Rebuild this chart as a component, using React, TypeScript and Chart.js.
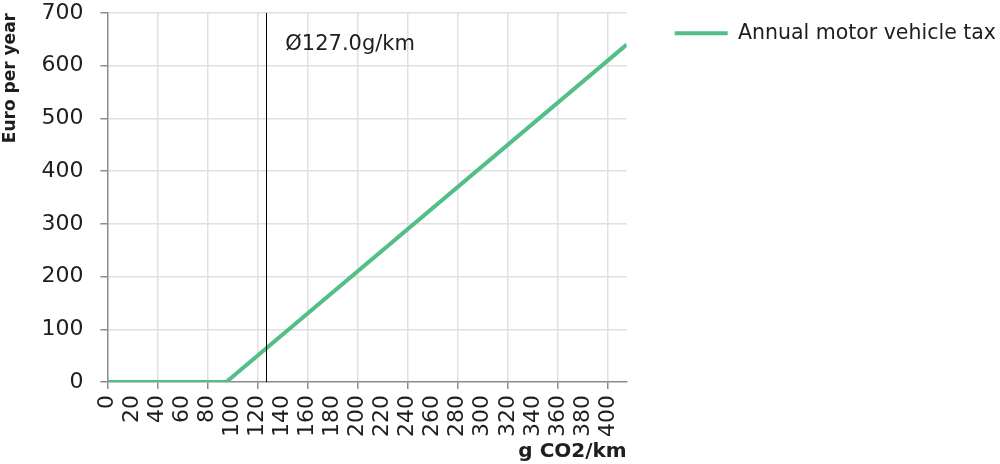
import React, { useEffect, useRef } from "react";
import { Chart, registerables } from "chart.js";

Chart.register(...registerables);

const emissions = [0, 95, 415];
const taxValues = [0, 0, 640];
const averageEmission = 127.0;
const xTickValues = [0, 20, 40, 60, 80, 100, 120, 140, 160, 180, 200, 220, 240, 260, 280, 300, 320, 340, 360, 380, 400];
const seriesLabel = "Annual motor vehicle tax";
const xTitle = "g CO2/km";
const yTitle = "Euro per year";

const FONT = "'DejaVu Sans', sans-serif";
const GREEN = "#52be88";
const TEXT = "#1e1e1e";
const LEGEND_FONT = 20.5;
const LEGEND_BOX = 53;
const LEGEND_GAP = 38;

const avgLinePlugin = {
  id: "avgLine",
  afterDatasetsDraw(chart: any) {
    const { ctx, chartArea, scales } = chart;
    const x = scales.x.getPixelForValue(averageEmission);
    ctx.save();
    ctx.strokeStyle = "#000";
    ctx.lineWidth = 1;
    ctx.beginPath();
    ctx.moveTo(Math.round(x) + 0.5, chartArea.top);
    ctx.lineTo(Math.round(x) + 0.5, chartArea.bottom);
    ctx.stroke();
    ctx.fillStyle = TEXT;
    ctx.font = `21px ${FONT}`;
    ctx.textBaseline = "middle";
    ctx.textAlign = "left";
    ctx.fillText(`Ø${averageEmission.toFixed(1)}g/km`, x + 19, chartArea.top + 32);
    ctx.restore();
  },
};

const legendGapPlugin = {
  id: "legendGap",
  beforeInit(chart: any) {
    const legend = chart.legend;
    if (!legend) return;
    const orig = legend.fit;
    legend.fit = function () {
      orig.call(this);
      const ctx = this.ctx;
      ctx.save();
      ctx.font = `${LEGEND_FONT}px ${FONT}`;
      const tw = ctx.measureText(seriesLabel).width;
      ctx.restore();
      this.width = LEGEND_GAP + 10 + LEGEND_BOX + LEGEND_FONT / 2 + tw + 2;
    };
  },
  afterLayout(chart: any) {
    if (chart.legend) chart.legend.left += LEGEND_GAP;
  },
};

export default function App() {
  const ref = useRef<HTMLCanvasElement>(null);
  useEffect(() => {
    document.body.style.margin = "0";
    const c = new Chart(ref.current!, {
      type: "line",
      data: {
        datasets: [
          {
            label: seriesLabel,
            data: emissions.map((x, i) => ({ x, y: taxValues[i] })),
            borderColor: GREEN,
            backgroundColor: GREEN,
            borderWidth: 4,
            pointRadius: 0,
            tension: 0,
          },
        ],
      },
      options: {
        animation: false,
        responsive: false,
        layout: { padding: { top: 13, right: 2, left: 0, bottom: 0 } },
        plugins: {
          tooltip: { enabled: false },
          legend: {
            position: "right",
            align: "start",
            labels: {
              usePointStyle: true,
              pointStyle: "line",
              pointStyleWidth: LEGEND_BOX,
              color: TEXT,
              font: { family: FONT, size: LEGEND_FONT },
              padding: 10,
            },
          },
        },
        scales: {
          x: {
            type: "linear",
            min: 0,
            max: 415,
            afterBuildTicks: (scale: any) => {
              scale.ticks = xTickValues.map((v) => ({ value: v }));
            },
            ticks: {
              autoSkip: false,
              minRotation: 90,
              maxRotation: 90,
              color: TEXT,
              font: { family: FONT, size: 22 },
              padding: 6,
              callback: (v: any) => String(v),
            },
            grid: {
              color: (c: any) => (c.tick && c.tick.value % 40 === 0 && c.tick.value !== 0 ? "#e0e0e0" : "rgba(0,0,0,0)"),
              tickColor: (c: any) => (c.tick && c.tick.value % 40 === 0 ? "#8c8c8c" : "rgba(0,0,0,0)"),
              lineWidth: 1.5,
              tickLength: 7,
            },
            border: { color: "#8c8c8c", width: 1.5 },
            title: {
              display: true,
              text: xTitle,
              align: "end",
              color: TEXT,
              font: { family: FONT, size: 20, weight: "bold" },
              padding: { top: -3, bottom: 0 },
            },
          },
          y: {
            min: 0,
            max: 700,
            afterFit: (scale: any) => {
              scale.paddingTop = 0;
            },
            ticks: {
              stepSize: 100,
              color: TEXT,
              font: { family: FONT, size: 22 },
              padding: 17,
            },
            grid: {
              color: (c: any) => (c.tick && c.tick.value === 0 ? "rgba(0,0,0,0)" : "#e0e0e0"),
              tickColor: "#8c8c8c",
              lineWidth: 1.5,
              tickLength: 7,
            },
            border: { color: "#8c8c8c", width: 1.5 },
            title: {
              display: true,
              text: yTitle,
              align: "end",
              color: TEXT,
              font: { family: FONT, size: 17, weight: "bold" },
              padding: { top: 0, bottom: 4 },
            },
          },
        },
      } as any,
      plugins: [avgLinePlugin, legendGapPlugin],
    });
    return () => c.destroy();
  }, []);
  return (
    <div style={{ width: 1000, height: 464 }}>
      <canvas ref={ref} width={1000} height={464} style={{ display: "block" }} />
    </div>
  );
}
